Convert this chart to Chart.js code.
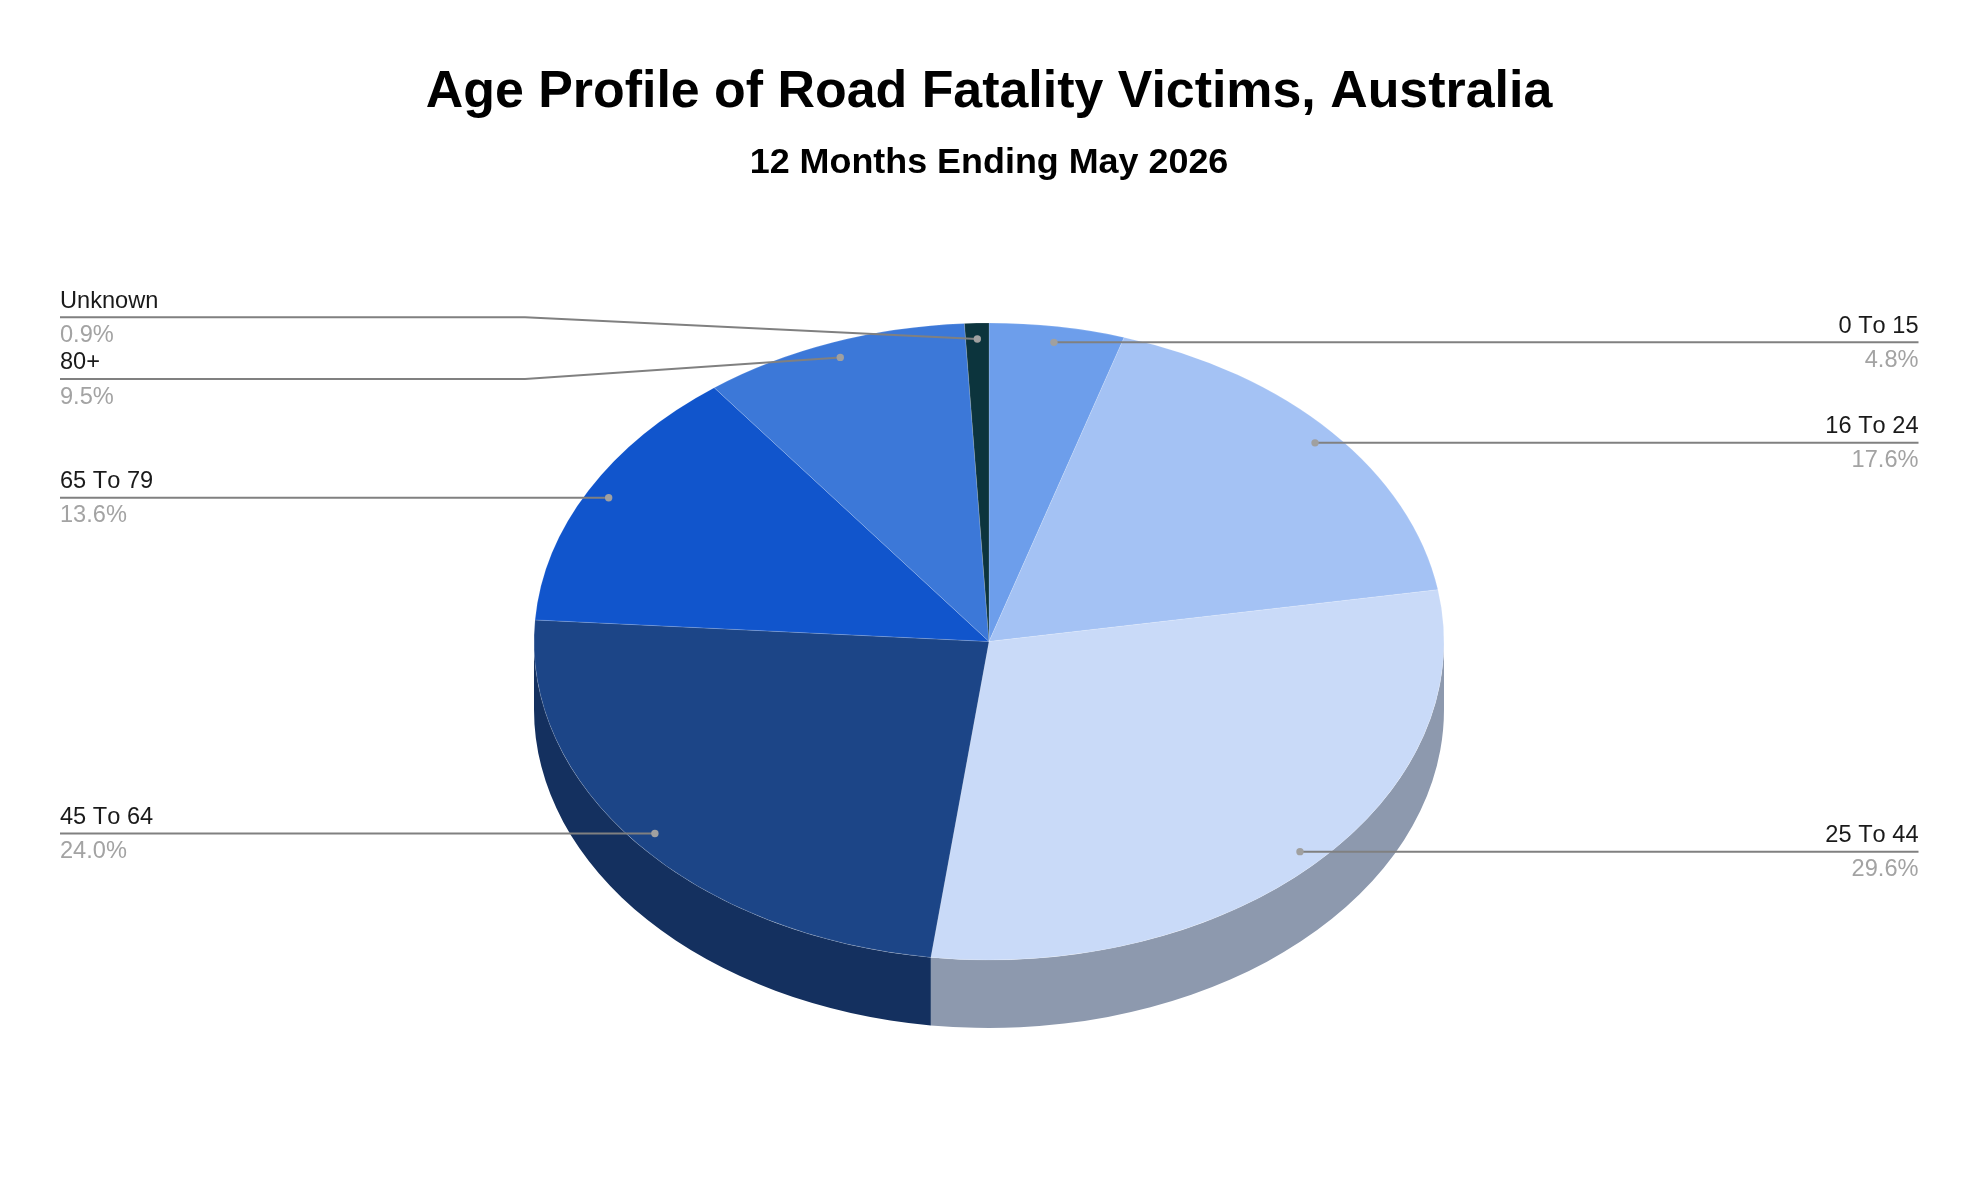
<!DOCTYPE html>
<html>
<head>
<meta charset="utf-8">
<title>Age Profile of Road Fatality Victims</title>
<script src="https://cdn.jsdelivr.net/npm/chart.js@4/dist/chart.umd.min.js"></script>
<style>
  body { margin: 0; background: #fff; }
  canvas { display: block; }
</style>
</head>
<body>
<canvas id="age_chart" width="1978" height="1190"></canvas>
<script>
// ! Data
const ageGroups = ["0 To 15", "16 To 24", "25 To 44", "45 To 64", "65 To 79", "80+", "Unknown"];
const shares = [4.8, 17.6, 29.64, 24.04, 13.6, 9.46, 0.86];
const sliceColors = ["#6d9eeb", "#a4c2f4", "#c9daf8", "#1c4587", "#1155cc", "#3c78d8", "#0c343d"];

// ! Pie look
const pieRadius = 455;
const pieCenterY = 641.5;
const squash = 0.7;
const wallDepth = 68;
const wallShade = 0.7;
const dotReach = 0.95;

// ! Labels
const marginLeft = 60;
const marginRight = 1918.5;
const elbowX = 525;
// the two small slices at the top get their label lines moved so they don't collide
const bentLineY = { "80+": 379, "Unknown": 317.3 };

const shade = (hex) => {
  let n = parseInt(hex.slice(1), 16);
  let r = Math.round(((n >> 16) & 255) * wallShade);
  let g = Math.round(((n >> 8) & 255) * wallShade);
  let b = Math.round((n & 255) * wallShade);
  return `rgb(${r},${g},${b})`;
};

const pie3d = {
  id: "pie3d",
  beforeDatasetsDraw(chart) {
    let ctx = chart.ctx;
    let arcs = chart.getDatasetMeta(0).data;
    let cx = arcs[0].x;
    let ry = pieRadius * squash;

    // side wall, only the front half can be seen
    arcs.forEach((arc, i) => {
      let lo = Math.max(arc.startAngle, 0);
      let hi = Math.min(arc.endAngle, Math.PI);
      if (lo >= hi) return;
      ctx.beginPath();
      ctx.ellipse(cx, pieCenterY, pieRadius, ry, 0, lo, hi);
      ctx.ellipse(cx, pieCenterY + wallDepth, pieRadius, ry, 0, hi, lo, true);
      ctx.closePath();
      ctx.fillStyle = shade(sliceColors[i]);
      ctx.fill();
    });

    ctx.save();
    ctx.translate(0, pieCenterY);
    ctx.scale(1, squash);
    ctx.translate(0, -arcs[0].y);
  },
  afterDatasetsDraw(chart) {
    let ctx = chart.ctx;
    ctx.restore();

    let arcs = chart.getDatasetMeta(0).data;
    let ry = pieRadius * squash;

    arcs.forEach((arc, i) => {
      let mid = (arc.startAngle + arc.endAngle) / 2;
      let dotX = arc.x + dotReach * pieRadius * Math.cos(mid);
      let dotY = pieCenterY + dotReach * ry * Math.sin(mid);
      let onLeft = Math.cos(mid) < 0;
      let edgeX = onLeft ? marginLeft : marginRight;
      let lineY = bentLineY[ageGroups[i]] ?? dotY;

      ctx.beginPath();
      ctx.moveTo(edgeX, lineY);
      if (lineY !== dotY) ctx.lineTo(elbowX, lineY);
      ctx.lineTo(dotX, dotY);
      ctx.strokeStyle = "#808080";
      ctx.lineWidth = 2;
      ctx.stroke();

      ctx.beginPath();
      ctx.arc(dotX, dotY, 3.7, 0, Math.PI * 2);
      ctx.fillStyle = "#a0a0a0";
      ctx.fill();

      ctx.font = "23.6px 'Liberation Sans'";
      ctx.fontKerning = "none";
      ctx.textAlign = onLeft ? "left" : "right";
      ctx.textBaseline = "alphabetic";
      ctx.fillStyle = "#1a1a1a";
      ctx.fillText(ageGroups[i], edgeX, lineY - 9.7);
      ctx.fillStyle = "#a3a3a3";
      ctx.fillText(shares[i].toFixed(1) + "%", edgeX, lineY + 24.5);
    });
  },
};

// ! Chart
new Chart(document.getElementById("age_chart"), {
  type: "pie",
  data: {
    labels: ageGroups,
    datasets: [
      {
        data: shares,
        backgroundColor: sliceColors,
        borderColor: "rgba(255,255,255,0.18)",
        borderWidth: 1,
        radius: pieRadius,
      },
    ],
  },
  options: {
    responsive: false,
    animation: false,
    plugins: {
      legend: { display: false },
      tooltip: { enabled: false },
      title: {
        display: true,
        text: "Age Profile of Road Fatality Victims, Australia",
        color: "#000",
        font: { family: "Liberation Sans", size: 51.9, weight: "bold" },
        padding: { top: 61.5, bottom: 17.5 },
      },
      subtitle: {
        display: true,
        text: "12 Months Ending May 2026",
        color: "#000",
        font: { family: "Liberation Sans", size: 35.9, weight: "bold" },
        padding: { top: 0, bottom: 0 },
      },
    },
  },
  plugins: [pie3d],
});
</script>
</body>
</html>
